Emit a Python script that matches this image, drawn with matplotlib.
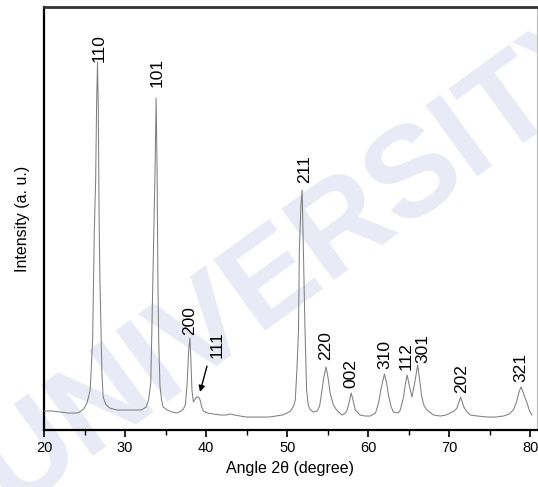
import matplotlib
matplotlib.use("Agg")
import matplotlib.pyplot as plt
from matplotlib.ticker import MultipleLocator

plt.rcParams["font.family"] = ["Liberation Sans", "DejaVu Sans"]

# trace of the diffraction pattern (2theta in degrees, intensity a.u.)
two_theta = [
    20.0, 21.0, 22.0, 23.0, 24.0, 24.4, 24.9, 25.3, 25.7, 26.0, 26.2, 26.37,
    26.5, 26.6, 26.7, 26.8, 26.9, 27.04, 27.15, 27.3, 27.6, 28.1, 29.0, 30.0,
    31.0, 32.0, 32.4, 32.6, 32.9, 33.17, 33.3, 33.5, 33.7, 33.83, 33.95, 34.05,
    34.15, 34.3, 34.5, 34.7, 35.2, 35.8, 36.4, 36.9, 37.2, 37.45, 37.65, 37.85,
    38.0, 38.12, 38.25, 38.43, 38.65, 38.85, 39.05, 39.26, 39.45, 39.67, 40.2,
    40.9, 41.8, 42.5, 43.0, 43.5, 44.2, 45.0, 46.0, 47.0, 47.8, 48.6, 49.4,
    50.0, 50.4, 50.8, 51.0, 51.2, 51.4, 51.5, 51.7, 51.85, 52.0, 52.1, 52.2,
    52.4, 52.6, 52.8, 53.2, 53.7, 54.0, 54.25, 54.5, 54.8, 55.05, 55.3, 55.7,
    56.1, 56.75, 57.2, 57.4, 57.65, 57.9, 58.15, 58.4, 59.0, 59.6, 60.25, 60.9,
    61.27, 61.6, 62.0, 62.25, 62.5, 62.8, 63.1, 63.7, 63.95, 64.36, 64.6, 64.8,
    65.05, 65.4, 65.75, 66.1, 66.35, 66.6, 66.9, 67.25, 68.05, 68.9, 69.6, 70.1,
    70.6, 70.95, 71.2, 71.4, 71.6, 71.8, 72.2, 72.6, 73.5, 74.65, 75.7, 76.7,
    77.4, 77.9, 78.3, 78.6, 78.85, 79.1, 79.35, 79.6, 79.9, 80.2,
]
intensity = [
    19, 19, 18, 17, 17, 18, 21, 27, 40, 90, 197, 250,
    330, 368, 320, 210, 150, 97, 55, 33, 26, 22, 20, 20,
    20, 20, 22, 23, 30, 47, 97, 180, 260, 332, 260, 150,
    90, 45, 30, 23, 20, 18, 17, 19, 21, 26, 45, 80,
    92, 70, 40, 28, 31, 33, 33, 30, 23, 19, 17,
    16, 15, 15, 16, 15, 14, 13, 13, 13, 13, 14, 15,
    17, 19, 24, 30, 60, 100, 180, 225, 240, 180, 140, 100,
    40, 25, 21, 18, 19, 24, 37, 52, 63, 52, 37, 25,
    20, 15, 17, 20, 28, 37, 29, 20, 15, 14, 14, 17,
    27, 42, 56, 48, 35, 24, 18, 17, 20, 33, 47, 55,
    45, 33, 48, 65, 50, 33, 24, 20, 15, 14, 15, 17,
    19, 22, 28, 33, 28, 23, 18, 15, 14, 13, 13, 14,
    16, 20, 28, 38, 43, 38, 32, 27, 19, 15,
]

# reflection labels and where their text sits
hkl = ["110", "101", "200", "111", "211", "220", "002", "310", "112", "301", "202", "321"]
label_x = [26.8, 34.0, 38.0, 41.3, 52.1, 54.7, 57.9, 62.0, 64.7, 66.7, 71.5, 78.8]
label_y = [368, 343, 95, 72, 247, 70, 42, 61, 60, 67, 37, 48]

fig = plt.figure(figsize=(5.38, 4.87), dpi=100)
fig.patch.set_facecolor("white")

# faint watermark behind the plot
wm = fig.text(0.56, 0.47, "UNIVERSITY", rotation=36, fontsize=92, fontweight="bold",
              color="#e8eaf5", ha="center", va="center")
wm.set_zorder(-5)

ax = fig.add_axes([0.0818, 0.117, 0.916, 0.8686])
ax.set_facecolor("none")

ax.plot(two_theta, intensity, color="#808080", linewidth=0.75, zorder=3)

for text, x, y in zip(hkl, label_x, label_y):
    if text == "111":
        ax.annotate(text, xy=(39.25, 38), xytext=(x, y), rotation=90,
                    ha="center", va="bottom", fontsize=12.5, zorder=4,
                    arrowprops=dict(arrowstyle="-|>", color="black", lw=1.0,
                                    mutation_scale=9, shrinkA=4, shrinkB=0,
                                    relpos=(0.0, 0.0)))
        continue
    ax.text(x, y, text, rotation=90, ha="center", va="bottom", fontsize=12.5, zorder=4)

ax.set_xlim(20, 80.8)
ax.set_ylim(0, 423)
ax.xaxis.set_major_locator(MultipleLocator(10))
ax.xaxis.set_minor_locator(MultipleLocator(5))
ax.set_yticks([])
ax.tick_params(axis="x", which="major", direction="out", length=5, width=1.2,
               labelsize=10.5, pad=3)
ax.tick_params(axis="x", which="minor", direction="out", length=3.5, width=1.0)

ax.spines["left"].set_linewidth(1.6)
ax.spines["bottom"].set_linewidth(1.6)
ax.spines["top"].set_linewidth(2.0)
ax.spines["top"].set_color("#333333")
ax.spines["right"].set_linewidth(0.8)
ax.spines["right"].set_color("#bbbbbb")

ax.set_xlabel("Angle 2\u03b8 (degree)", fontsize=11.5, labelpad=4)
ax.set_ylabel("Intensity (a. u.)", fontsize=11.5, labelpad=10)

fig.savefig("out.png", dpi=100)
